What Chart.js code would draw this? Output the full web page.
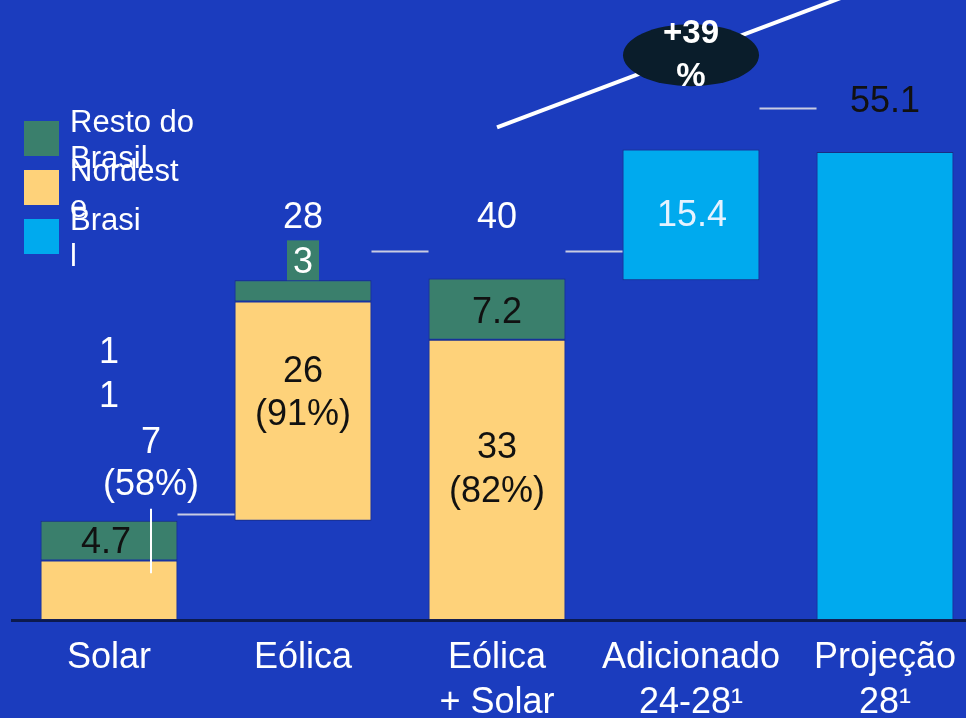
<!DOCTYPE html>
<html>
<head>
<meta charset="utf-8">
<script src="https://cdn.jsdelivr.net/npm/chart.js@4"></script>
<style>
  html, body { margin: 0; padding: 0; background: #1b3cbe; overflow: hidden; }
  #wrap { position: relative; width: 966px; height: 718px; overflow: hidden; }
  canvas { position: absolute; left: 0; top: 0; }
</style>
</head>
<body>
<div id="wrap"><canvas id="chart" width="982" height="742"></canvas></div>
<script>
// capacidade (GW) - waterfall
const categories = [['Solar'], ['Eólica'], ['Eólica', '+ Solar'], ['Adicionado', '24-28¹'], ['Projeção', '28¹']];
const bases = [0, 11.7, 0, 40, 0];
const nordeste = [7.0, 25.8, 33, null, null];
const restoBrasil = [4.7, 2.5, 7.2, null, null];
const brasil = [null, null, null, 15.4, 55.1];
const legendNames = [['Resto do', 'Brasil'], ['Nordest', 'e'], ['Brasi', 'l']];

const GREEN = '#3a7f6c';
const YELLOW = '#fed27a';
const CYAN = '#00aaee';

const nordesteRange = nordeste.map((v, i) => v == null ? null : [bases[i], bases[i] + v]);
const restoRange = restoBrasil.map((v, i) => v == null ? null : [bases[i] + nordeste[i], bases[i] + nordeste[i] + v]);
const brasilRange = brasil.map((v, i) => v == null ? null : [bases[i], bases[i] + v]);

// text notes: category index, y value, x offset px
const notes = [
  { i: 0, v: 31.4, dx: 0, text: '1', color: '#fff' },
  { i: 0, v: 26.3, dx: 0, text: '1', color: '#fff' },
  { i: 0, v: 20.8, dx: 42, text: '7', color: '#fff' },
  { i: 0, v: 15.9, dx: 42, text: '(58%)', color: '#fff' },
  { i: 0, v: 9.1, dx: -3, text: '4.7', color: '#111' },
  { i: 1, v: 47.3, dx: 0, text: '28', color: '#fff' },
  { i: 1, v: 29.2, dx: 0, text: '26', color: '#111' },
  { i: 1, v: 24.1, dx: 0, text: '(91%)', color: '#111' },
  { i: 2, v: 47.3, dx: 0, text: '40', color: '#fff' },
  { i: 2, v: 36.1, dx: 0, text: '7.2', color: '#111' },
  { i: 2, v: 20.3, dx: 0, text: '33', color: '#111' },
  { i: 2, v: 15.1, dx: 0, text: '(82%)', color: '#111' },
  { i: 3, v: 47.5, dx: 1, text: '15.4', color: '#e4f2ff' },
  { i: 4, v: 61.0, dx: 0, text: '55.1', color: '#111' }
];
const connectors = [[0, 1, 12.5], [1, 2, 43.4], [2, 3, 43.4], [3, 4, 60.3]];

const annotations = {
  id: 'annotations',
  afterDatasetsDraw(chart) {
    const { ctx, scales: { x, y } } = chart;
    const half = chart.getDatasetMeta(0).data[0].width / 2;
    ctx.save();

    // connectors between bars
    ctx.strokeStyle = '#c9cce2';
    ctx.lineWidth = 2;
    connectors.forEach(([a, b, v]) => {
      const yy = Math.round(y.getPixelForValue(v)) + 0.5;
      ctx.beginPath();
      ctx.moveTo(x.getPixelForValue(a) + half, yy);
      ctx.lineTo(x.getPixelForValue(b) - half, yy);
      ctx.stroke();
    });

    // leader line on Solar
    ctx.strokeStyle = '#fff';
    ctx.beginPath();
    ctx.moveTo(x.getPixelForValue(0) + 42, y.getPixelForValue(13.1));
    ctx.lineTo(x.getPixelForValue(0) + 42, y.getPixelForValue(5.5));
    ctx.stroke();

    // small green box "3"
    const bx = x.getPixelForValue(1);
    const top = y.getPixelForValue(44.7);
    const bot = y.getPixelForValue(restoRange[1][1]);
    ctx.fillStyle = GREEN;
    ctx.fillRect(bx - 16, top, 32, bot - top);

    // growth line + bubble
    ctx.strokeStyle = '#fff';
    ctx.lineWidth = 4;
    ctx.beginPath();
    ctx.moveTo(x.getPixelForValue(2), y.getPixelForValue(58.0));
    ctx.lineTo(x.getPixelForValue(4), y.getPixelForValue(75.2));
    ctx.stroke();
    ctx.fillStyle = '#0a1d2b';
    ctx.beginPath();
    ctx.ellipse(x.getPixelForValue(3), y.getPixelForValue(66.5), 68, 31, 0, 0, Math.PI * 2);
    ctx.fill();

    ctx.textAlign = 'center';
    ctx.textBaseline = 'middle';
    ctx.fillStyle = '#fff';
    ctx.font = 'bold 33px "Liberation Sans", Arial, sans-serif';
    ctx.fillText('+39', x.getPixelForValue(3), y.getPixelForValue(69.0));
    ctx.fillText('%', x.getPixelForValue(3), y.getPixelForValue(63.9));

    ctx.font = '36px "Liberation Sans", Arial, sans-serif';
    ctx.fillText('3', bx, y.getPixelForValue(42.0));
    notes.forEach(n => {
      ctx.fillStyle = n.color;
      ctx.fillText(n.text, x.getPixelForValue(n.i) + n.dx, y.getPixelForValue(n.v));
    });

    // legend
    const colors = [GREEN, YELLOW, CYAN];
    ctx.font = '31px "Liberation Sans", Arial, sans-serif';
    ctx.textAlign = 'left';
    ctx.textBaseline = 'alphabetic';
    colors.forEach((c, k) => {
      const t = 121 + k * 49;
      ctx.fillStyle = c;
      ctx.fillRect(24, t, 35, 35);
      ctx.fillStyle = '#fff';
      legendNames[k].forEach((line, j) => ctx.fillText(line, 70, t + 11 + j * 36));
    });
    ctx.restore();
  }
};

const barStyle = { borderColor: 'rgba(25,35,90,0.6)', borderWidth: 1, borderSkipped: false };

new Chart(document.getElementById('chart'), {
  type: 'bar',
  data: {
    labels: categories,
    datasets: [
      { label: 'Nordeste', data: nordesteRange, backgroundColor: YELLOW, ...barStyle },
      { label: 'Resto do Brasil', data: restoRange, backgroundColor: GREEN, ...barStyle },
      { label: 'Brasil', data: brasilRange, backgroundColor: CYAN, ...barStyle }
    ]
  },
  options: {
    responsive: false,
    animation: false,
    grouped: false,
    barPercentage: 0.706,
    categoryPercentage: 1,
    layout: { padding: { left: 12, right: 0, top: 0, bottom: 0 } },
    plugins: { legend: { display: false }, tooltip: { enabled: false } },
    scales: {
      x: {
        grid: { display: false, drawTicks: false },
        border: { display: true, color: '#0c1a4e', width: 3 },
        ticks: {
          color: '#fff',
          padding: 16,
          font: { family: '"Liberation Sans", Arial, sans-serif', size: 36, lineHeight: 1.25 }
        }
      },
      y: { display: false, min: 0, max: 73 }
    }
  },
  plugins: [annotations]
});
</script>
</body>
</html>
